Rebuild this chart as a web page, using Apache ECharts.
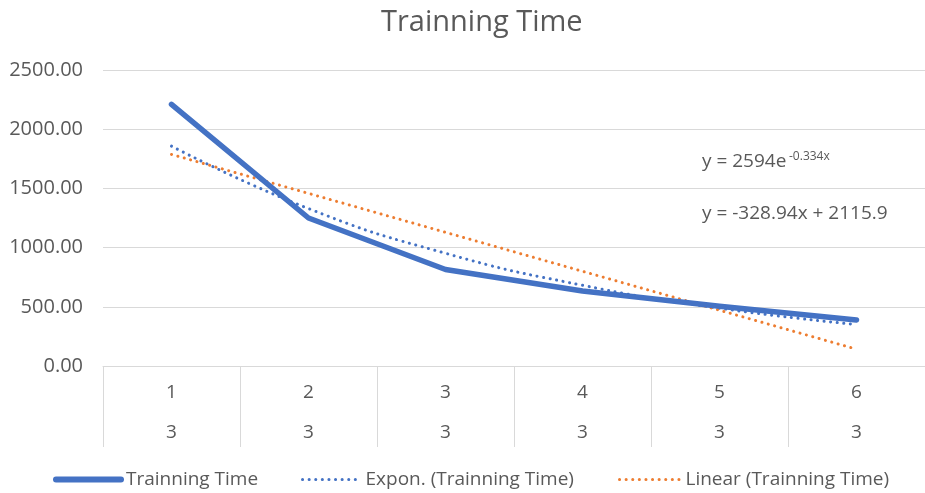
<!DOCTYPE html>
<html>
<head>
<meta charset="utf-8">
<title>Trainning Time</title>
<script src="https://cdn.jsdelivr.net/npm/echarts@6/dist/echarts.min.js"></script>
<style>
    html, body { margin: 0; padding: 0; background: #fff; }
    #chart { width: 925px; height: 493px; }
</style>
</head>
<body>
<div id="chart"></div>
<script>
// 数据
const runNumbers = ['1', '2', '3', '4', '5', '6'];
const groupLabels = ['3', '3', '3', '3', '3', '3'];
const trainingTime = [2210, 1250, 815, 633, 505, 389];
// 趋势线
const exponTrend = [1857, 1330, 952, 682, 488, 350];
const linearTrend = [1787, 1458, 1129, 800, 471, 142];
const yTicks = { min: 0, max: 2500, interval: 500 };

const FONT = '"Open Sans", "Noto Sans", sans-serif';
const GREY = '#595959';
const LINE = '#d9d9d9';
const BLUE = '#4472C4';
const ORANGE = '#ED7D31';
const DOTS = [0.1, 6.5];

const chart = echarts.init(document.getElementById('chart'));

function legendFor(name, left, width, lineStyle) {
    return {
        data: [name],
        left: left,
        top: 470,
        padding: 0,
        itemWidth: width,
        itemHeight: 20,
        itemStyle: { opacity: 0 },
        lineStyle: lineStyle,
        textStyle: { color: GREY, fontSize: 19, fontFamily: FONT }
    };
}

const option = {
    animation: false,
    textStyle: { fontFamily: FONT },
    title: {
        text: 'Trainning Time',
        left: 376,
        top: 3,
        textStyle: { color: GREY, fontSize: 29, fontWeight: 'normal', fontFamily: FONT }
    },
    legend: [
        legendFor('Trainning Time', 53, 65, { width: 6, cap: 'round' }),
        legendFor('Expon. (Trainning Time)', 301, 58, { width: 3, type: DOTS, cap: 'round' }),
        legendFor('Linear (Trainning Time)', 618, 61, { width: 3, type: DOTS, cap: 'round' })
    ],
    grid: { left: 103, top: 70, width: 832, height: 296 },
    xAxis: {
        type: 'category',
        data: runNumbers,
        boundaryGap: true,
        axisLine: { lineStyle: { color: LINE, width: 1 } },
        axisTick: { show: true, interval: 0, length: 81, lineStyle: { color: LINE } },
        axisLabel: {
            interval: 0,
            margin: 7,
            color: GREY,
            fontSize: 19,
            lineHeight: 40,
            fontFamily: FONT,
            formatter: function (v, i) { return v + '\n' + groupLabels[i]; }
        }
    },
    yAxis: {
        type: 'value',
        min: yTicks.min,
        max: yTicks.max,
        interval: yTicks.interval,
        axisLine: { show: false },
        axisTick: { show: false },
        splitLine: { lineStyle: { color: LINE, width: 1 } },
        axisLabel: {
            margin: 20,
            color: GREY,
            fontSize: 20,
            fontFamily: FONT,
            formatter: function (v) { return v.toFixed(2); }
        }
    },
    series: [
        {
            name: 'Trainning Time',
            type: 'line',
            data: trainingTime,
            symbol: 'none',
            color: BLUE,
            lineStyle: { color: BLUE, width: 5.5, cap: 'round', join: 'round' },
            z: 3
        },
        {
            name: 'Expon. (Trainning Time)',
            type: 'line',
            data: exponTrend,
            smooth: true,
            symbol: 'none',
            color: BLUE,
            lineStyle: { color: BLUE, width: 3, type: DOTS, cap: 'round' },
            z: 2
        },
        {
            name: 'Linear (Trainning Time)',
            type: 'line',
            data: linearTrend,
            symbol: 'none',
            color: ORANGE,
            lineStyle: { color: ORANGE, width: 3, type: DOTS, cap: 'round' },
            z: 2
        }
    ],
    graphic: [
        {
            type: 'text',
            left: 702,
            top: 152,
            style: { text: 'y = 2594e', fontSize: 19, fontFamily: FONT, fill: GREY }
        },
        {
            type: 'text',
            left: 789,
            top: 151,
            style: { text: '-0.334x', fontSize: 12, fontFamily: FONT, fill: GREY }
        },
        {
            type: 'text',
            left: 702,
            top: 204,
            style: { text: 'y = -328.94x + 2115.9', fontSize: 19, fontFamily: FONT, fill: GREY }
        }
    ]
};

chart.setOption(option);
</script>
</body>
</html>
